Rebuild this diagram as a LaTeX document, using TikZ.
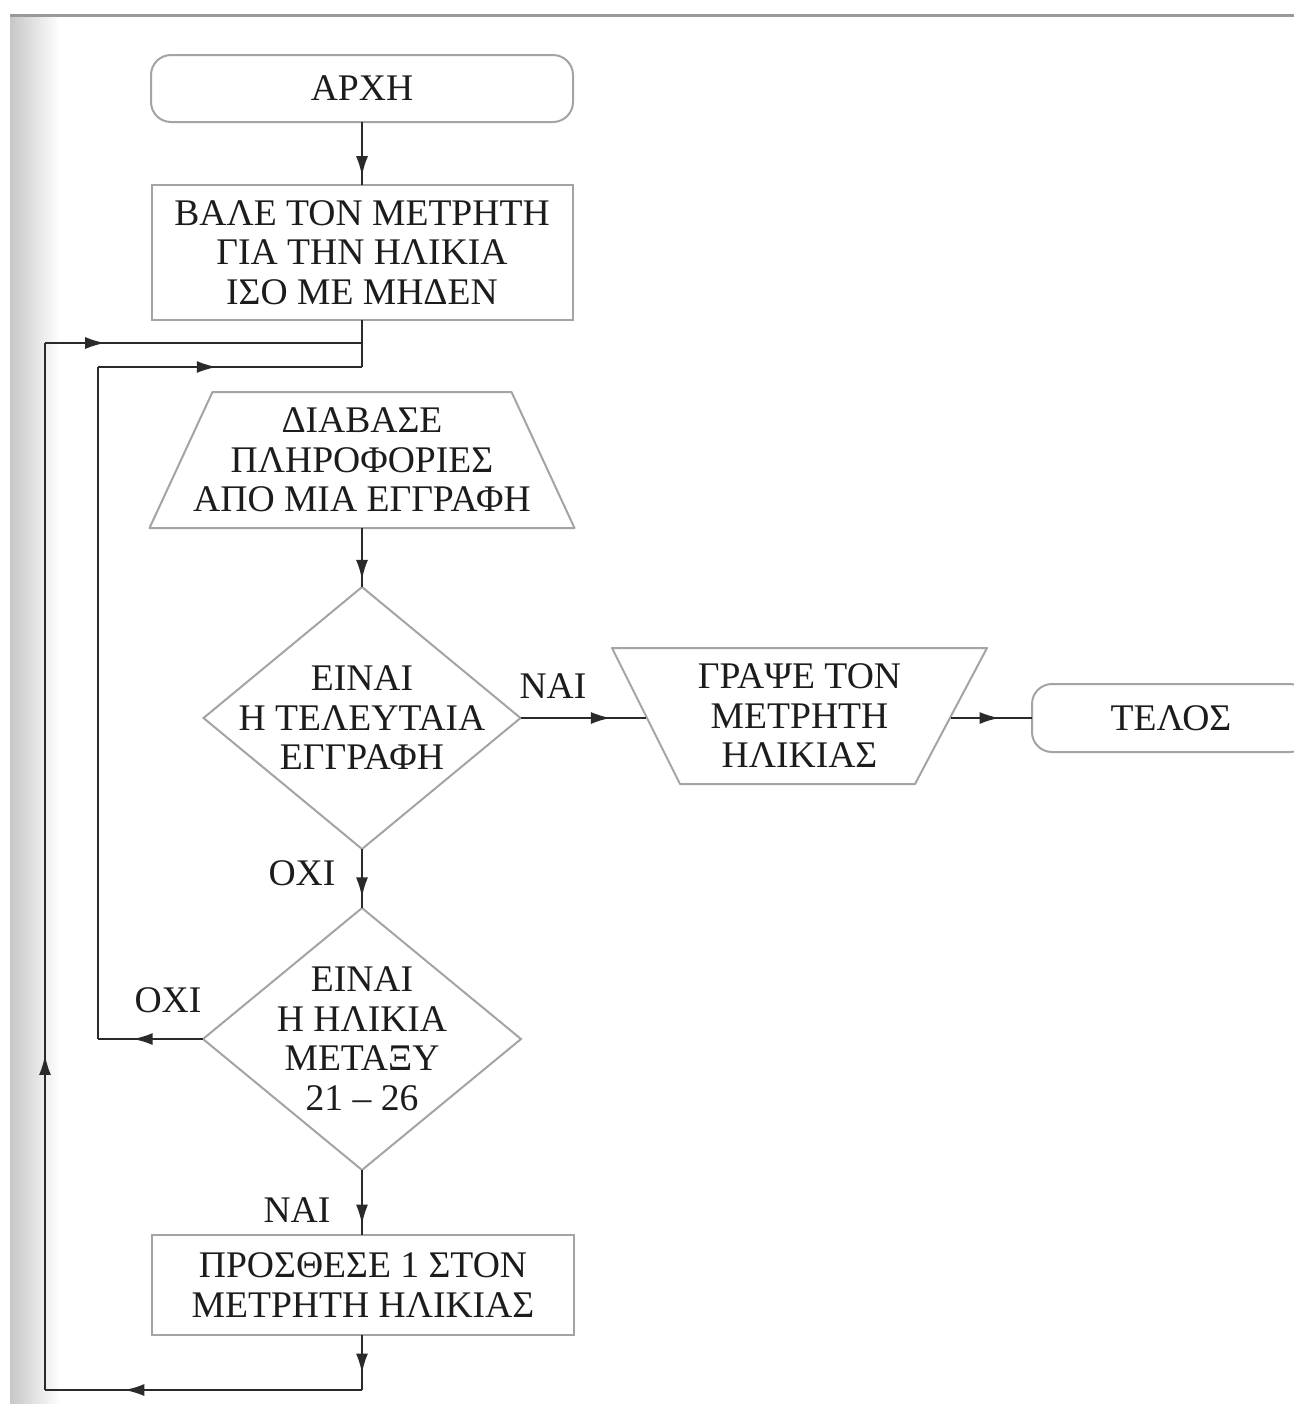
\documentclass[tikz,border=0pt]{standalone}
\usepackage{fontspec}
\setmainfont{Liberation Serif}
\usetikzlibrary{shapes.geometric,arrows.meta,decorations.markings}
\definecolor{shapegray}{HTML}{A4A4A4}
\definecolor{linegray}{HTML}{2A2A2A}
\definecolor{textgray}{HTML}{1C1C1C}
\tikzset{
  box/.style={draw=shapegray, line width=1pt, inner sep=0pt, outer sep=0pt},
  frame/.style={inner sep=0pt, outer sep=0pt},
  outline/.style={draw=shapegray, line width=1pt, line join=round},
  txt/.style={text=textgray, font=\fontsize{18.8}{19.75}\selectfont, align=center, inner sep=0pt},
  conn/.style={draw=linegray, line width=1.1pt},
  marr/.style={postaction={decorate, decoration={markings, mark=at position #1 with {\arrow{Latex[length=10pt,width=6pt]}}}}},
}
\begin{document}
\begin{tikzpicture}[x=0.5pt, y=-0.5pt]
  \clip (0,0) rectangle (1294,1404);
  \fill[white] (0,0) rectangle (1294,1404);
  \shade[left color=black!22, right color=white] (10,16) rectangle (60,1404);
  \draw[black!40, line width=1.5pt] (10,15) -- (1294,15);

  % shapes
  \node[box, rounded corners=10pt, minimum width=211pt, minimum height=33.5pt] (start) at (362,88.5) {};
  \node[txt] (startt) at (start) {ΑΡΧΗ};

  \node[box, minimum width=210.5pt, minimum height=67.5pt] (b1) at (362,252.5) {};
  \node[txt] (b1t) at (b1) {ΒΑΛΕ ΤΟΝ ΜΕΤΡΗΤΗ\\ΓΙΑ ΤΗΝ ΗΛΙΚΙΑ\\ΙΣΟ ΜΕ ΜΗΔΕΝ};

  \node[frame, minimum width=212.5pt, minimum height=68pt] (t1) at (362,460) {};
  \draw[outline] ([xshift=31.5pt]t1.north west) -- ([xshift=-31.5pt]t1.north east)
        -- (t1.south east) -- (t1.south west) -- cycle;
  \node[txt] (t1t) at (t1) {ΔΙΑΒΑΣΕ\\ΠΛΗΡΟΦΟΡΙΕΣ\\ΑΠΟ ΜΙΑ ΕΓΓΡΑΦΗ};

  \node[box, diamond, minimum width=158.5pt, minimum height=131pt] (d1) at (362,718) {};
  \node[txt] (d1t) at (d1) {ΕΙΝΑΙ\\Η ΤΕΛΕΥΤΑΙΑ\\ΕΓΓΡΑΦΗ};

  \node[frame, minimum width=187.5pt, minimum height=68pt] (t2) at (799.5,716) {};
  \draw[outline] (t2.north west) -- (t2.north east) -- ([xshift=-36pt]t2.south east)
        -- ([xshift=34pt]t2.south west) -- cycle;
  \node[txt] (t2t) at (t2) {ΓΡΑΨΕ ΤΟΝ\\ΜΕΤΡΗΤΗ\\ΗΛΙΚΙΑΣ};
  \coordinate (t2w) at ([xshift=17pt,yshift=-1pt]t2.west);
  \coordinate (t2e) at ([xshift=-18pt,yshift=-1pt]t2.east);

  \node[box, rounded corners=10pt, minimum width=139pt, minimum height=34pt] (end) at (1171,718) {};
  \node[txt] (endt) at (end) {ΤΕΛΟΣ};

  \node[box, diamond, minimum width=159pt, minimum height=131pt] (d2) at (362,1039) {};
  \node[txt] (d2t) at (d2) {ΕΙΝΑΙ\\Η ΗΛΙΚΙΑ\\ΜΕΤΑΞΥ\\21 – 26};

  \node[box, minimum width=211pt, minimum height=50pt] (b2) at (363,1285) {};
  \node[txt] (b2t) at (b2) {ΠΡΟΣΘΕΣΕ 1 ΣΤΟΝ\\ΜΕΤΡΗΤΗ ΗΛΙΚΙΑΣ};

  % labels
  \node[txt] (lnai1) at (553,686) {ΝΑΙ};
  \node[txt] (lochi1) at (302,873) {ΟΧΙ};
  \node[txt] (lochi2) at (168,1000) {ΟΧΙ};
  \node[txt] (lnai2) at (297,1210) {ΝΑΙ};

  % junction / corner coordinates
  \coordinate (j0) at (362,343);
  \coordinate (j1) at (362,367);
  \coordinate (c1) at (362,1390);
  \coordinate (c2) at (45,1390);
  \coordinate (c3) at (45,343);
  \coordinate (c4) at (98,1039);
  \coordinate (c5) at (98,367);

  % connectors
  \draw[conn, marr=0.86] (start.south) -- (b1.north);
  \draw[conn] (b1.south) -- (j1);
  \draw[conn, marr=0.88] (t1.south) -- (d1.north);
  \draw[conn, marr=0.72] (d1.east) -- (t2w);
  \draw[conn, marr=0.6] (t2e) -- (end.west);
  \draw[conn, marr=0.82] (d1.south) -- (d2.north);
  \draw[conn, marr=0.84] (d2.south) -- ([xshift=-0.5pt]b2.north);
  \draw[conn, marr=0.7] ([xshift=-0.5pt]b2.south) -- (c1);
  \draw[conn, marr=0.75] (c1) -- (c2);
  \draw[conn, marr=0.32] (c2) -- (c3);
  \draw[conn, marr=0.19] (c3) -- (j0);
  \draw[conn, marr=0.67] (d2.west) -- (c4);
  \draw[conn] (c4) -- (c5);
  \draw[conn, marr=0.45] (c5) -- (j1);
\end{tikzpicture}
\end{document}
